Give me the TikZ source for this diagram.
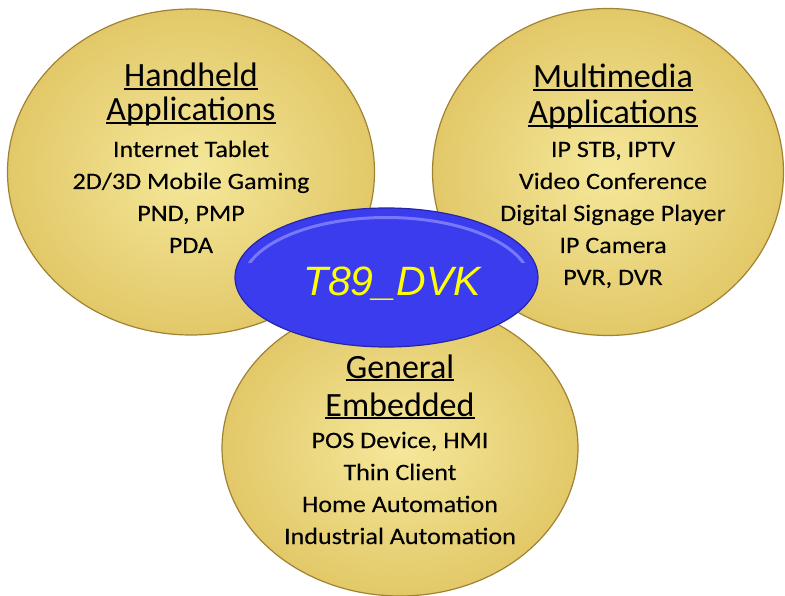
\documentclass[tikz,border=0pt]{standalone}
\usepackage{fontspec}
\setmainfont{Carlito}
\newfontfamily\itemfont[FakeStretch=1.11, FakeBold=0.15]{Carlito}
\newfontfamily\arialfont{Liberation Sans}
\usetikzlibrary{shapes.geometric}

\definecolor{goldlight}{RGB}{245,232,155}
\definecolor{golddark}{RGB}{226,200,104}
\definecolor{goldrim}{RGB}{160,130,50}
\definecolor{goldband}{RGB}{198,168,75}
\definecolor{bluefill}{RGB}{58,60,238}
\definecolor{bluerim}{RGB}{36,38,170}
\definecolor{bluehi}{RGB}{140,142,255}
\definecolor{dvkyellow}{RGB}{255,255,0}

% underlined heading word, rule at a fixed depth
\newlength\ulwd
\newcommand\headword[1]{\settowidth{\ulwd}{#1}\rlap{\rule[-0.1em]{\ulwd}{0.06em}}#1}

\begin{document}
\begin{tikzpicture}[
  x=1pt, y=-1pt,
  coin/.style={
    ellipse,
    inner sep=0,
    inner color=goldlight,
    outer color=golddark,
    draw=goldrim,
    line width=1.2pt,
    path picture={\draw[goldband, line width=6pt, opacity=.5]
      (path picture bounding box.center) ellipse [x radius=#1, y radius=#1];}
  },
  coin/.default=0pt,
  hub/.style={
    ellipse,
    inner sep=0,
    fill=bluefill,
    draw=bluerim,
    line width=1.2pt,
    path picture={
      \clip ([yshift=15pt]path picture bounding box.west) rectangle (path picture bounding box.north east);
      \draw[bluehi, line width=3pt, opacity=.75]
        ([yshift=-6pt]path picture bounding box.center) ellipse [x radius=144pt, y radius=66pt];}
  },
  head/.style={anchor=base, inner sep=0, font=\fontsize{34}{34}\selectfont},
  item/.style={anchor=base, inner sep=0, font=\itemfont\fontsize{23.5}{28}\selectfont}
  ]

  \useasboundingbox (0,0) rectangle (785,596);

  % the three application areas
  \node [coin, minimum width=367pt, minimum height=326pt] (hand) at (191,172) {};
  \node [coin, minimum width=351pt, minimum height=327pt] (multi) at (608,172) {};
  \node [coin, minimum width=356pt, minimum height=296pt] (embed) at (400,448) {};

  % the kit in the middle
  \node [hub, minimum width=303pt, minimum height=139pt] (dvk) at (386.5,277.5) {};
  \node [anchor=base, inner sep=0, text=dvkyellow, font=\arialfont\itshape\fontsize{41}{41}\selectfont]
    (dvklabel) at (392,295) {T89\_DVK};

  % Handheld
  \node [head] (handhead1) at (191,87) {\headword{Handheld}};
  \node [head] (handhead2) at (191,121) {\headword{Applications}};
  \foreach \txt [count=\i] in {Internet Tablet, 2D/3D Mobile Gaming, {PND, PMP}, PDA}
    \node [item] (handitem\i) at (191,125+32*\i) {\txt};

  % Multimedia
  \node [head] (multihead1) at (613,88) {\headword{Multimedia}};
  \node [head] (multihead2) at (613,124) {\headword{Applications}};
  \foreach \txt [count=\i] in {{IP STB, IPTV}, Video Conference, Digital Signage Player, IP Camera, {PVR, DVR}}
    \node [item] (multiitem\i) at (613,125+32*\i) {\txt};

  % General embedded
  \node [head] (embedhead1) at (400,378) {\headword{General}};
  \node [head] (embedhead2) at (400,416) {\headword{Embedded}};
  \foreach \txt [count=\i] in {{POS Device, HMI}, Thin Client, Home Automation, Industrial Automation}
    \node [item] (embeditem\i) at (400,416+32*\i) {\txt};

\end{tikzpicture}
\end{document}
